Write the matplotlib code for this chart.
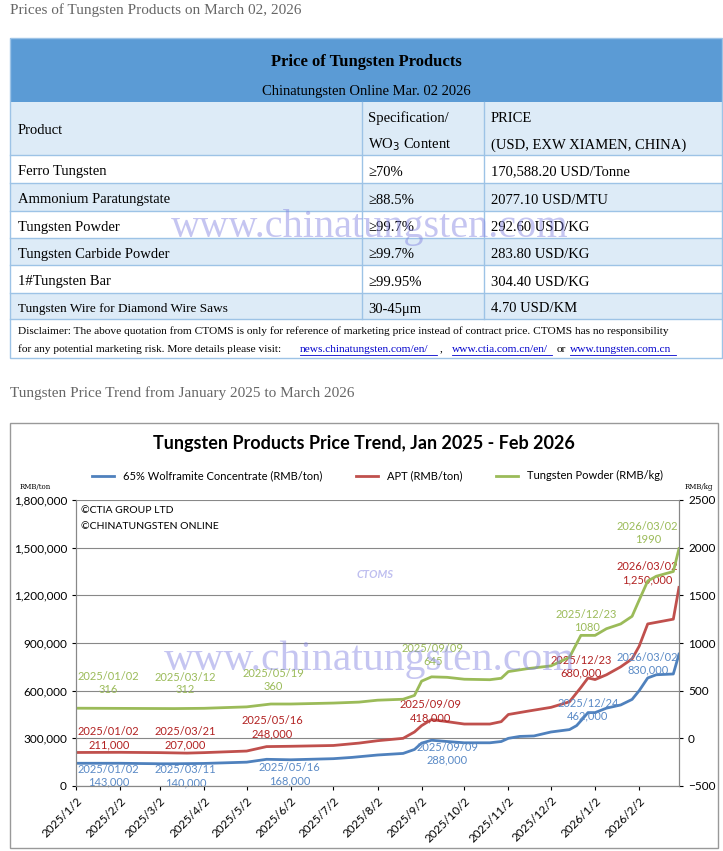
import numpy as np
import pandas as pd
import matplotlib
matplotlib.use('Agg')
import matplotlib.pyplot as plt
from matplotlib.patches import Rectangle

# table data
products = ['Ferro Tungsten', 'Ammonium Paratungstate', 'Tungsten Powder',
            'Tungsten Carbide Powder', '1#Tungsten Bar', 'Tungsten Wire for Diamond Wire Saws']
specs = ['≥70%', '≥88.5%', '≥99.7%', '≥99.7%', '≥99.95%', '30-45μm']
prices = ['170,588.20 USD/Tonne', '2077.10 USD/MTU', '292.60 USD/KG',
          '283.80 USD/KG', '304.40 USD/KG', '4.70 USD/KM']

# chart data
wolf_dates = ['2025-01-02', '2025-02-02', '2025-03-02', '2025-03-11', '2025-04-02', '2025-05-02',
              '2025-05-16', '2025-06-02', '2025-07-02', '2025-07-15', '2025-08-02', '2025-08-20',
              '2025-08-28', '2025-09-02', '2025-09-09', '2025-09-20', '2025-10-02', '2025-10-20',
              '2025-10-28', '2025-11-02', '2025-11-10', '2025-11-20', '2025-12-02', '2025-12-15',
              '2025-12-20', '2025-12-24', '2025-12-28', '2026-01-02', '2026-01-10', '2026-01-20',
              '2026-01-28', '2026-02-02', '2026-02-08', '2026-02-14', '2026-02-26', '2026-03-02']
wolf_vals = [143000, 143000, 140000, 140000, 142000, 150000, 168000, 165000, 172000, 180000,
             195000, 205000, 230000, 270000, 288000, 280000, 272000, 272000, 280000, 300000,
             312000, 315000, 340000, 355000, 380000, 420000, 462000, 462000, 490000, 510000,
             545000, 600000, 680000, 700000, 705000, 830000]

apt_dates = ['2025-01-02', '2025-02-02', '2025-03-02', '2025-03-21', '2025-04-02', '2025-05-02',
             '2025-05-16', '2025-06-02', '2025-07-02', '2025-07-20', '2025-08-02', '2025-08-20',
             '2025-08-28', '2025-09-02', '2025-09-09', '2025-09-20', '2025-10-02', '2025-10-20',
             '2025-10-28', '2025-11-02', '2025-11-15', '2025-12-02', '2025-12-15', '2025-12-23',
             '2025-12-28', '2026-01-02', '2026-01-10', '2026-01-20', '2026-01-28', '2026-02-02',
             '2026-02-08', '2026-02-26', '2026-03-02']
apt_vals = [211000, 212000, 210000, 207000, 210000, 220000, 248000, 250000, 255000, 270000,
            285000, 300000, 340000, 380000, 418000, 405000, 390000, 390000, 405000, 450000,
            470000, 495000, 530000, 620000, 680000, 670000, 700000, 750000, 800000, 880000,
            1020000, 1050000, 1250000]

pow_dates = ['2025-01-02', '2025-03-12', '2025-04-02', '2025-05-02', '2025-05-19', '2025-06-02',
             '2025-07-02', '2025-07-20', '2025-08-02', '2025-08-20', '2025-08-28', '2025-09-02',
             '2025-09-09', '2025-09-20', '2025-10-02', '2025-10-20', '2025-10-28', '2025-11-02',
             '2025-11-15', '2025-12-02', '2025-12-15', '2025-12-23', '2026-01-02', '2026-01-10',
             '2026-01-20', '2026-01-28', '2026-02-02', '2026-02-08', '2026-02-14', '2026-02-26',
             '2026-03-02']
pow_vals = [316, 312, 315, 330, 360, 360, 370, 380, 400, 410, 450, 600, 645, 640, 620, 615,
            630, 700, 730, 760, 850, 1080, 1080, 1150, 1200, 1280, 1450, 1650, 1700, 1750, 1990]

blue, red, green = '#4F81BD', '#C0504D', '#9BBB59'
serif = 'Liberation Serif'
sans = 'Lato'

fig = plt.figure(figsize=(7.23, 8.51), dpi=100)
bg = fig.add_axes([0, 0, 1, 1])
bg.set_xlim(0, 723)
bg.set_ylim(851, 0)
bg.axis('off')

bg.text(10, 10, 'Prices of Tungsten Products on March 02, 2026', fontsize=11,
        family=serif, color='#666666', va='center')
bg.text(10, 393, 'Tungsten Price Trend from January 2025 to March 2026', fontsize=11,
        family=serif, color='#666666', va='center')

# table
L, R = 10, 722
c1, c2 = 362, 484
bg.add_patch(Rectangle((L, 38), R - L, 64, facecolor='#5B9BD5', edgecolor='none'))
bg.text((L + R) / 2, 62, 'Price of Tungsten Products', fontsize=12, fontweight='bold',
        family=serif, ha='center', va='center')
bg.text((L + R) / 2, 91, 'Chinatungsten Online Mar. 02 2026', fontsize=10.5,
        family=serif, ha='center', va='center')
rows = [102, 155, 183, 211, 238, 265, 293, 319]
for i in range(len(rows) - 1):
    fc = '#DDEBF7' if i % 2 == 0 else 'white'
    bg.add_patch(Rectangle((L, rows[i]), R - L, rows[i + 1] - rows[i], facecolor=fc,
                           edgecolor='none'))
for y in rows[1:]:
    bg.plot([L, R], [y, y], color='#9DC3E6', lw=1)
for x in (c1, c2):
    bg.plot([x, x], [102, 319], color='#9DC3E6', lw=1)
bg.add_patch(Rectangle((L, 38), R - L, 320, facecolor='none', edgecolor='#9DC3E6', lw=1))
fs = 10.5
bg.text(18, 131, 'Product', fontsize=fs, family=serif, va='center')
bg.text(368, 118, 'Specification/', fontsize=fs, family=serif, va='center')
bg.text(368, 145, 'WO$_3$ Content', fontsize=fs, family=serif, va='center')
bg.text(491, 118, 'PRICE', fontsize=fs, family=serif, va='center')
bg.text(491, 145, '(USD, EXW XIAMEN, CHINA)', fontsize=fs, family=serif, va='center')
for i, (p, s, pr) in enumerate(zip(products, specs, prices)):
    y = (rows[i + 1] + rows[i + 2]) / 2 + 3
    f2 = 9.5 if i == 5 else fs
    bg.text(18, y, p, fontsize=f2, family=serif, va='center')
    bg.text(368, y, s, fontsize=fs, family=serif, va='center')
    bg.text(491, y, pr, fontsize=fs, family=serif, va='center')
bg.text(18, 331, 'Disclaimer: The above quotation from CTOMS is only for reference of marketing '
        'price instead of contract price. CTOMS has no responsibility', fontsize=8.2,
        family=serif, va='center')
bg.text(18, 349, 'for any potential marketing risk. More details please visit: ', fontsize=8.2,
        family=serif, va='center')
link = dict(fontsize=8.2, family=serif, va='center', color='#0000CC')
bg.text(300, 349, 'news.chinatungsten.com/en/', **link)
bg.plot([300, 437], [355, 355], color='#0000CC', lw=0.6)
bg.text(440, 349, ',', fontsize=8.2, family=serif, va='center')
bg.text(452, 349, 'www.ctia.com.cn/en/', **link)
bg.plot([452, 552], [355, 355], color='#0000CC', lw=0.6)
bg.text(557, 349, 'or', fontsize=8.2, family=serif, va='center')
bg.text(570, 349, 'www.tungsten.com.cn', **link)
bg.plot([570, 676], [355, 355], color='#0000CC', lw=0.6)
bg.text(370, 227, 'www.chinatungsten.com', fontsize=29, family=serif, ha='center',
        va='center', color='#8080E0', alpha=0.45, zorder=10)

# chart frame
bg.add_patch(Rectangle((10, 423), 708, 425, facecolor='white', edgecolor='#999999', lw=1))
bg.text(364, 444, 'Tungsten Products Price Trend, Jan 2025 - Feb 2026', fontsize=13,
        fontweight='bold', family=sans, ha='center', va='center')
bg.text(20, 487, 'RMB/ton', fontsize=5, family='DejaVu Serif', va='center')
bg.text(685, 487, 'RMB/kg', fontsize=5, family='DejaVu Serif', va='center')

ax = fig.add_axes([76 / 723, (851 - 786) / 851, (679 - 76) / 723, (786 - 500) / 851])
ax.patch.set_alpha(0)
ax2 = ax.twinx()
wd = pd.to_datetime(wolf_dates)
ad = pd.to_datetime(apt_dates)
pd_ = pd.to_datetime(pow_dates)
l1, = ax.plot(wd, wolf_vals, color=blue, lw=2, label='65% Wolframite Concentrate (RMB/ton)')
l2, = ax.plot(ad, apt_vals, color=red, lw=2, label='APT (RMB/ton)')
l3, = ax2.plot(pd_, pow_vals, color=green, lw=2, label='Tungsten Powder (RMB/kg)')
ax.set_ylim(0, 1800000)
ax2.set_ylim(-500, 2500)
ax.set_yticks(np.arange(0, 1800001, 300000))
ax.set_yticklabels([f'{v:,}' for v in range(0, 1800001, 300000)])
ax2.set_yticks(np.arange(-500, 2501, 500))
ax.set_xlim(pd.Timestamp('2025-01-02'), pd.Timestamp('2026-03-02'))
ticks = pd.date_range('2025-01-01', '2026-02-01', freq='MS') + pd.Timedelta(days=1)
ax.set_xticks(ticks)
ax.set_xticklabels([f'{d.year}/{d.month}/{d.day}' for d in ticks], rotation=45, ha='right',
                   rotation_mode='anchor')
ax.grid(axis='y', color='#888888', lw=0.8)
for a in (ax, ax2):
    a.tick_params(labelsize=8.5, length=3)
    for s in a.spines.values():
        s.set_color('#888888')
    a.spines['top'].set_visible(False)
    for lab in a.get_yticklabels() + a.get_xticklabels():
        lab.set_family(sans)
ax.legend(handles=[l1, l2, l3], loc='lower center', bbox_to_anchor=(0.5, 1.03), ncol=3,
          frameon=False, handlelength=2, columnspacing=3, prop={'family': sans, 'size': 8})
ax.text(0.008, 0.955, '©CTIA GROUP LTD', transform=ax.transAxes, fontsize=7.5, family=sans)
ax.text(0.008, 0.9, '©CHINATUNGSTEN ONLINE', transform=ax.transAxes, fontsize=7.5, family=sans)

def note(a, d, y, txt, c):
    a.text(pd.Timestamp(d), y, txt, color=c, fontsize=8, family=sans, ha='center', va='center')

note(ax, '2025-01-25', 65000, '2025/01/02\n143,000', '#5A8AC6')
note(ax, '2025-03-20', 62000, '2025/03/11\n140,000', '#5A8AC6')
note(ax, '2025-06-01', 75000, '2025/05/16\n168,000', '#5A8AC6')
note(ax, '2025-09-20', 205000, '2025/09/09\n288,000', '#5A8AC6')
note(ax, '2025-12-28', 480000, '2025/12/24\n462,000', '#5A8AC6')
note(ax, '2026-02-08', 770000, '2026/03/02\n830,000', '#5A8AC6')
note(ax, '2025-01-25', 300000, '2025/01/02\n211,000', '#B22222')
note(ax, '2025-03-20', 300000, '2025/03/21\n207,000', '#B22222')
note(ax, '2025-05-20', 370000, '2025/05/16\n248,000', '#B22222')
note(ax, '2025-09-08', 470000, '2025/09/09\n418,000', '#B22222')
note(ax, '2025-12-23', 750000, '2025/12/23\n680,000', '#B22222')
note(ax, '2026-02-08', 1340000, '2026/03/02\n1,250,000', '#B22222')
note(ax2, '2025-01-25', 580, '2025/01/02\n316', green)
note(ax2, '2025-03-20', 575, '2025/03/12\n312', green)
note(ax2, '2025-05-21', 610, '2025/05/19\n360', green)
note(ax2, '2025-09-10', 870, '2025/09/09\n645', green)
note(ax2, '2025-12-27', 1230, '2025/12/23\n1080', green)
note(ax2, '2026-02-08', 2150, '2026/03/02\n1990', green)

wm = fig.add_axes([0, 0, 1, 1])
wm.set_xlim(0, 723)
wm.set_ylim(851, 0)
wm.axis('off')
wm.text(370, 660, 'www.chinatungsten.com', fontsize=30, family=serif, ha='center',
        va='center', color='#8080E0', alpha=0.45)
wm.text(375, 578, 'CTOMS', fontsize=8, fontweight='bold', style='italic', family=sans,
        ha='center', color='#8080E0', alpha=0.5)

fig.savefig('out.png', dpi=100)
